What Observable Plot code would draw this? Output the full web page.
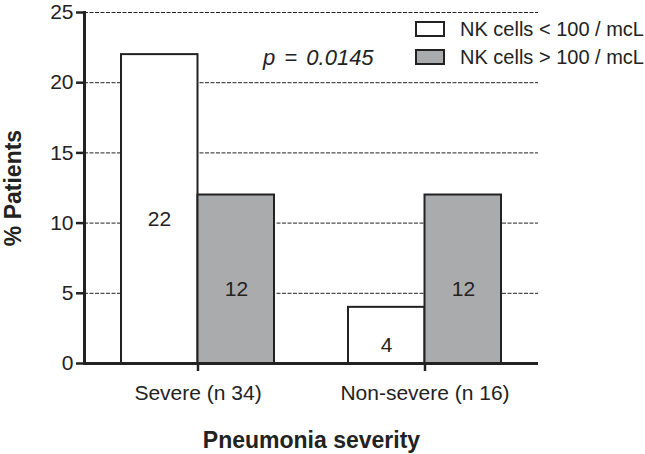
<!DOCTYPE html>
<html>
<head>
<meta charset="utf-8">
<script src="https://cdn.jsdelivr.net/npm/d3@7"></script>
<script src="https://cdn.jsdelivr.net/npm/@observablehq/plot@0.6"></script>
<style>
  body { margin: 0; background: #fff; }
  #wrap { position: relative; width: 645px; height: 454px; font-family: "Liberation Sans", Arial, sans-serif; color: #222; }
  #wrap svg { font-family: "Liberation Sans", Arial, sans-serif; }
  #wrap svg [aria-label="x-axis label"] text, #wrap svg [aria-label="y-axis label"] text { font-weight: bold; font-size: 23px; }
  .ov { position: absolute; font-size: 20px; line-height: 20px; white-space: nowrap; }
  .sw { position: absolute; width: 26px; height: 12px; border: 2px solid #222; }
</style>
</head>
<body>
<div id="wrap"></div>
<script>
const groups = ["Severe (n 34)", "Non-severe (n 16)"];
const series = ["NK cells < 100 / mcL", "NK cells > 100 / mcL"];
const lowValues = [22, 4];
const highValues = [12, 12];
const yTicks = [0, 5, 10, 15, 20, 25];
const pText = "p = 0.0145";
const colors = ["#ffffff", "#aaabad"];

const rows = [];
groups.forEach((g, i) => {
  rows.push({group: g, series: series[0], value: lowValues[i], s: 0});
  rows.push({group: g, series: series[1], value: highValues[i], s: 1});
});
const low = rows.filter(d => d.s === 0);
const high = rows.filter(d => d.s === 1);

const chart = Plot.plot({
  width: 645,
  height: 454,
  marginTop: 12,
  marginRight: 107,
  marginBottom: 91,
  marginLeft: 84,
  x: {type: "band", domain: groups, padding: 0},
  y: {domain: [0, 25]},
  marks: [
    Plot.ruleY(yTicks.filter(d => d > 0), {stroke: "#222", strokeWidth: 1, strokeDasharray: "4,1.5"}),
    Plot.barY(low, {x: "group", y: "value", fill: colors[0], stroke: "#222", strokeWidth: 2, insetLeft: 37, insetRight: 113.5}),
    Plot.barY(high, {x: "group", y: "value", fill: colors[1], stroke: "#222", strokeWidth: 2, insetLeft: 113.5, insetRight: 37}),
    Plot.text(low, {x: "group", y: d => d.value / 2, text: d => String(d.value), dx: -38.5, dy: 10, fontSize: 21, fill: "#222"}),
    Plot.text(high, {x: "group", y: d => d.value / 2, text: d => String(d.value), dx: 38.5, dy: 10, fontSize: 21, fill: "#222"}),
    Plot.ruleY([0], {stroke: "#222", strokeWidth: 3}),
    Plot.frame({anchor: "left", stroke: "#222", strokeWidth: 3}),
    Plot.axisY({ticks: yTicks, tickSize: 8, tickPadding: 3, strokeWidth: 2.5, fontSize: 21, label: "% Patients", labelAnchor: "center", labelArrow: "none", labelOffset: 80, color: "#222"}),
    Plot.axisX({tickSize: 8, tickPadding: 14, strokeWidth: 2.5, fontSize: 21, label: "Pneumonia severity", labelAnchor: "center", labelArrow: "none", labelOffset: 84, color: "#222"})
  ]
});

const wrap = document.getElementById("wrap");
wrap.appendChild(chart);

const p = document.createElement("div");
p.className = "ov";
p.style.left = "263px"; p.style.top = "47px"; p.style.fontStyle = "italic";
p.style.fontSize = "22px"; p.style.lineHeight = "22px"; p.style.wordSpacing = "3px";
p.textContent = pText;
wrap.appendChild(p);

series.forEach((s, i) => {
  const sw = document.createElement("div");
  sw.className = "sw";
  sw.style.left = "415px"; sw.style.top = (21 + i * 28) + "px"; sw.style.background = colors[i];
  wrap.appendChild(sw);
  const t = document.createElement("div");
  t.className = "ov";
  t.style.left = "460px"; t.style.top = (19 + i * 28) + "px";
  t.textContent = s;
  wrap.appendChild(t);
});
</script>
</body>
</html>
